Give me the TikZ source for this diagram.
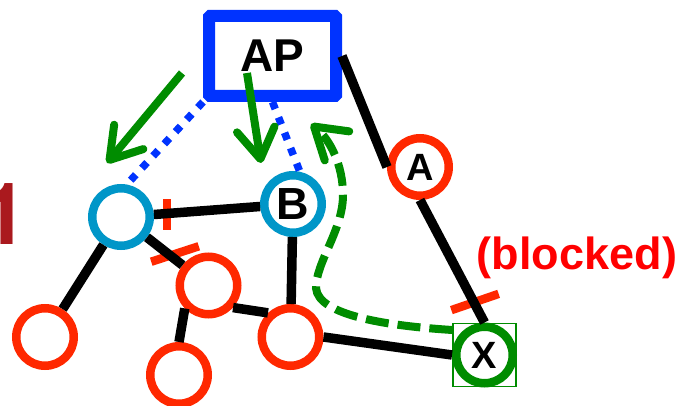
\documentclass[tikz,border=0pt]{standalone}
\usepackage{fontspec}
\setmainfont{Liberation Sans}
\newfontfamily\numfont{TeX Gyre Heros}
\usetikzlibrary{positioning,arrows.meta}
\definecolor{apblue}{RGB}{0,51,255}
\definecolor{stacyan}{RGB}{0,150,200}
\definecolor{hopred}{RGB}{255,40,0}
\definecolor{pathgreen}{RGB}{0,140,0}
\definecolor{labelred}{RGB}{255,0,0}
\definecolor{numred}{RGB}{170,25,30}

\begin{document}
\begin{tikzpicture}[x=1pt, y=-1pt,
    apnode/.style={rectangle, draw=apblue, line width=12pt, rounded corners=1pt, minimum width=127pt, minimum height=80pt, inner sep=0pt},
    stanode/.style={circle, draw=stacyan, line width=8.5pt, minimum size=57.5pt, inner sep=0pt},
    hopnode/.style={circle, draw=hopred, line width=8.5pt, minimum size=57.5pt, inner sep=0pt},
    destnode/.style={circle, draw=pathgreen, line width=8.5pt, minimum size=56.5pt, inner sep=0pt},
    cutmark/.style={rectangle, fill=hopred, minimum height=8.5pt, inner sep=0pt},
    wire/.style={line width=9.5pt},
    dotlink/.style={draw=apblue, line width=7.5pt, dash pattern=on 7.5pt off 9pt},
    steer/.style={draw=pathgreen, line width=8pt, -{Straight Barb[length=30pt, width=38pt, round]}},
    ]
    \tikzstyle{every node}=[font=\bfseries]
    \useasboundingbox (0,0) rectangle (683,406);
    %Nodes
    \node[apnode]   (AP)  at (272.5,56)  {\fontsize{46}{50}\selectfont AP};
    \node[stanode]  (u)   at (121,217)   {};
    \node[stanode]  (B)   at (293,204)   {\fontsize{45}{48}\selectfont B};
    \node[hopnode]  (A)   at (420,167)   {\fontsize{38}{42}\selectfont A};
    \node[destnode] (X)   at (484.5,355) {\fontsize{38}{42}\selectfont X};
    \node[rectangle, draw=pathgreen, line width=1.5pt, minimum size=63pt] (xbox) at (X.center) {};
    \node[hopnode]  (r1)  at (45,337)    {};
    \node[hopnode]  (r2)  at (208.5,285.5) {};
    \node[hopnode]  (r3)  at (179,375)   {};
    \node[hopnode]  (r4)  at (290.5,337) {};
    \node[cutmark, minimum width=31pt, rotate=90] (cut1) at (167,215) {};
    \node[cutmark, minimum width=50pt, rotate=18] (cut2) at (175,254) {};
    \node[cutmark, minimum width=50pt, rotate=19] (cut3) at (475,302) {};
    \node[text=labelred] (blocked) at (577,258) {\fontsize{45}{50}\selectfont (blocked)};
    \node[anchor=base west, inner sep=0pt, text=numred] (num) at (-19.5,245) {\numfont\fontsize{86}{90}\selectfont 1};
    \coordinate (s1) at (182,73);
    \coordinate (e1) at (107,163);
    \coordinate (s2) at (247,73);
    \coordinate (e2) at (261,163);
    \coordinate (back) at (311,124);

    %Lines
    \draw[wire] (AP.east) -- (A.west);
    \draw[wire] (A.south) -- (X.north);
    \draw[wire] (u) -- (B);
    \draw[wire] (u) -- (r1);
    \draw[wire] (u) -- (r2);
    \draw[wire] (r2.224) -- (r3.north);
    \draw[wire] (r2.318) -- (r4.133);
    \draw[wire] (B) -- (r4);
    \draw[wire] (r4.east) -- (X.west);
    \draw[dotlink] (AP.south west) -- (u.80);
    \draw[dotlink] (AP.south) -- (B.78);
    \draw[steer] (s1) -- (e1);
    \draw[steer] (s2) -- (e2);
    \draw[steer, dash pattern=on 23pt off 9pt] ([yshift=25pt]xbox.west) .. controls (390,326) and (318,316) .. (316,288)
        .. controls (316,262) and (343,230) .. (343,195) .. controls (343,165) and (330,140) .. (back);
\end{tikzpicture}
\end{document}
